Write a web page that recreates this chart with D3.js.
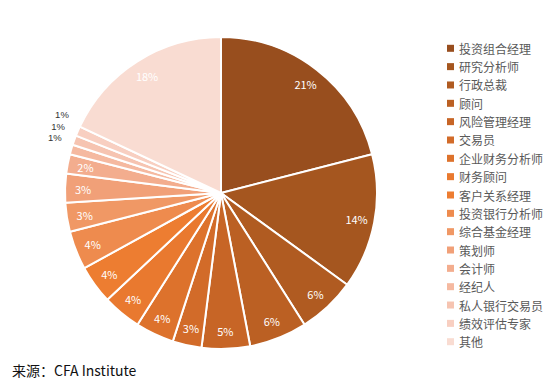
<!DOCTYPE html>
<html><head><meta charset="utf-8">
<script src="https://cdn.jsdelivr.net/npm/d3@7"></script>
<style>body{margin:0;background:#fff;} svg{display:block;}</style>
</head><body>
<svg id="chart" width="554" height="390"></svg>
<script>
const categories = ["投资组合经理","研究分析师","行政总裁","顾问","风险管理经理","交易员","企业财务分析师","财务顾问","客户关系经理","投资银行分析师","综合基金经理","策划师","会计师","经纪人","私人银行交易员","绩效评估专家","其他"];
const values = [21,14,6,6,5,3,4,4,4,4,3,3,2,1,1,1,18];
const labels = ["21%","14%","6%","6%","5%","3%","4%","4%","4%","4%","3%","3%","2%","1%","1%","1%","18%"];
const colors = ["#984E1E","#A5561F","#B05B21","#BB6023","#C76526","#D26B29","#DD722C","#E9792F","#ED7D31","#EE8B4E","#F09865","#F1A078","#F3AD8E","#F5B9A0","#F6C4B1","#F8CFC1","#F9DCD2"];
const sourceText = "来源：CFA Institute";

const svg = d3.select("#chart");
const cx = 221, cy = 193, R = 156;
const font = "'Noto Sans CJK SC','Noto Sans',sans-serif";

const pie = d3.pie().sort(null).value(d => d)(values);
const arc = d3.arc().innerRadius(0).outerRadius(R);
const color = d3.scaleOrdinal().domain(categories).range(colors);

const g = svg.append("g").attr("transform", `translate(${cx},${cy})`);
g.selectAll("path").data(pie).join("path")
  .attr("d", arc)
  .attr("fill", (d,i) => color(categories[i]))
  .attr("stroke", "#fff").attr("stroke-width", 2).attr("stroke-linejoin","round");

const inArc = d3.arc().innerRadius(138).outerRadius(138);
const outArc = d3.arc().innerRadius(170).outerRadius(170);
// small slices: labels outside, stacked so they do not collide
const smallIdx = values.map((v,i) => v <= 1 ? i : -1).filter(i => i >= 0);
const midSmall = pie[smallIdx[Math.floor(smallIdx.length/2)]];
const midC = outArc.centroid(midSmall);
g.selectAll("text.lbl").data(pie).join("text")
  .attr("class","lbl")
  .attr("transform", (d,i) => {
    if (values[i] <= 1) {
      const k = smallIdx.indexOf(i) - Math.floor(smallIdx.length/2);
      const c = outArc.centroid(d);
      return `translate(${c[0]-3},${midC[1]-9 - k*11.5})`;
    }
    const c = inArc.centroid(d); return `translate(${c[0]},${c[1]})`;
  })
  .attr("text-anchor","middle").attr("dominant-baseline","central")
  .attr("font-family", (d,i) => values[i] <= 1 ? "'Liberation Sans',sans-serif" : font)
  .attr("font-size", (d,i) => values[i] <= 1 ? 9.5 : 11)
  .attr("fill", (d,i) => values[i] <= 1 ? "#333" : "#fff")
  .text((d,i) => labels[i]);

const legY = d3.scalePoint().domain(categories).range([48.3, 341.7]);
const leg = svg.append("g");
const items = leg.selectAll("g").data(categories).join("g")
  .attr("transform", d => `translate(447,${legY(d)})`);
items.append("rect").attr("x",0).attr("y",-3.5).attr("width",7).attr("height",7)
  .attr("fill", d => color(d));
items.append("text").attr("x",12).attr("y",0).attr("dominant-baseline","central")
  .attr("font-family", font).attr("font-size", 12).attr("fill","#595959")
  .text(d => d);

svg.append("text").attr("x",12).attr("y",370).attr("dominant-baseline","central")
  .attr("font-family", font).attr("font-size", 14).attr("fill","#111")
  .text(sourceText);
</script>
</body></html>
